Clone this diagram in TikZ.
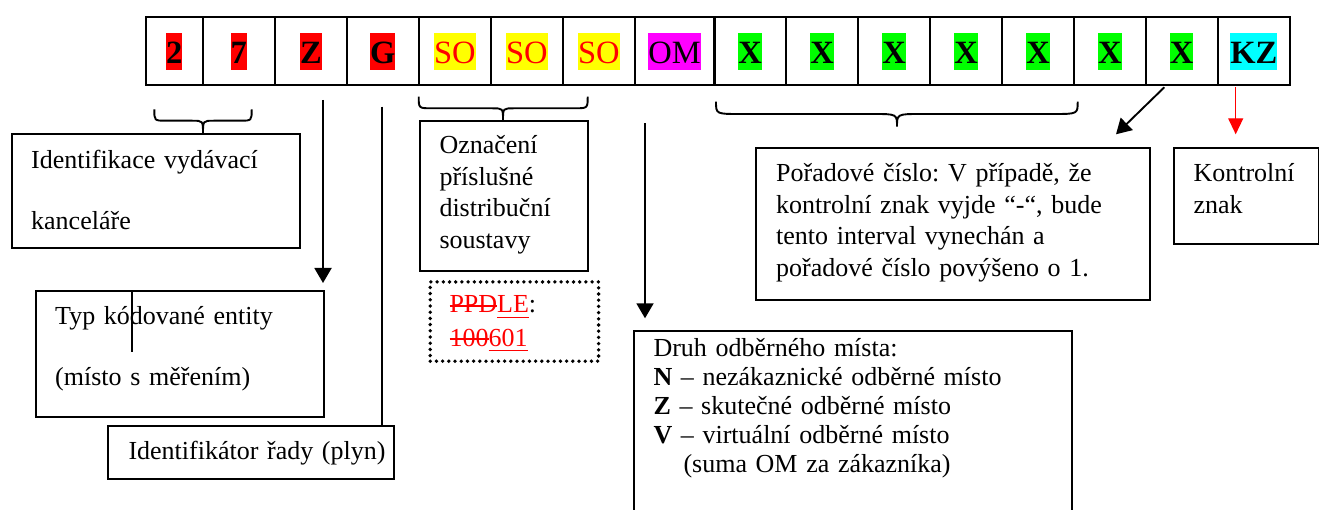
\documentclass[tikz,border=0pt]{standalone}
\usepackage{fontspec}
\setmainfont{Liberation Serif}
\usetikzlibrary{arrows.meta}
\frenchspacing
\definecolor{hlred}{RGB}{255,0,0}
\definecolor{hlyellow}{RGB}{255,255,0}
\definecolor{hlmag}{RGB}{255,0,255}
\definecolor{hlgreen}{RGB}{0,255,0}
\definecolor{hlcyan}{RGB}{0,255,255}
\newcommand\topfnt{\fontsize{32.5}{37}\selectfont}
\newsavebox\mkbox
\newcommand\strk[1]{\leavevmode\sbox\mkbox{#1}\rlap{\rule[6.3pt]{\wd\mkbox}{1.6pt}}\usebox\mkbox}
\newcommand\undl[1]{\leavevmode\sbox\mkbox{#1}\rlap{\rule[-5.5pt]{\wd\mkbox}{1.6pt}}\usebox\mkbox}
\begin{document}
\begin{tikzpicture}[x=1pt,y=-1pt,
  cell/.style={draw, line width=2.4pt, minimum height=67.7pt, inner sep=0pt, anchor=center},
  hl/.style={inner sep=0pt, text height=30.3pt, text depth=6.7pt, anchor=base, font=\topfnt},
  box/.style={draw, line width=1.9pt, anchor=north west, inner sep=0pt},
  dotbox/.style={draw, line width=3.8pt, dash pattern=on 0pt off 6.2pt, line cap=round, anchor=north west, inner sep=0pt},
  txt/.style={anchor=base west, inner sep=0pt, align=left, text width=420pt},
  arr/.style={line width=1.9pt, -{Triangle[width=17pt,length=15pt]}},
  brc/.style={line width=1.9pt}]
\useasboundingbox (0,0) rectangle (1319,510);
\clip (0,0) rectangle (1319,510);
% top row of cells
\foreach \i/\a/\b in {1/145.7/202.7, 2/202.7/275, 3/275/347, 4/347/418.7, 5/418.7/491,
  6/491/562.7, 7/562.7/635, 8/635/714.3, 9/714.3/786, 10/786/858, 11/858/930,
  12/930/1002, 13/1002/1074, 14/1074/1145.7, 15/1145.7/1217.7, 16/1217.7/1290}
  \node[cell, minimum width={(\b-\a)*1pt}] (c\i) at ({(\a+\b)/2},51.15) {};
% cell texts
\node[hl, fill=hlred, font=\topfnt\bfseries] (t1) at ([yshift=-12.15pt]c1.center) {2};
\node[hl, fill=hlred, font=\topfnt\bfseries] (t2) at ([yshift=-12.15pt]c2.center) {7};
\node[hl, fill=hlred, font=\topfnt\bfseries] (t3) at ([yshift=-12.15pt]c3.center) {Z};
\node[hl, fill=hlred, font=\topfnt\bfseries] (t4) at ([yshift=-12.15pt]c4.center) {G};
\node[hl, fill=hlyellow, text=hlred] (t5) at ([yshift=-12.15pt]c5.center) {SO};
\node[hl, fill=hlyellow, text=hlred] (t6) at ([yshift=-12.15pt]c6.center) {SO};
\node[hl, fill=hlyellow, text=hlred] (t7) at ([yshift=-12.15pt]c7.center) {SO};
\node[hl, fill=hlmag] (t8) at ([yshift=-12.15pt]c8.center) {OM};
\foreach \i in {9,...,15}
  \node[hl, fill=hlgreen, font=\topfnt\bfseries] (t\i) at ([yshift=-12.15pt]c\i.center) {X};
\node[hl, fill=hlcyan, font=\topfnt\bfseries] (t16) at ([yshift=-12.15pt]c16.center) {KZ};

% boxes
\node[box, minimum width=288pt, minimum height=113.4pt] (idbox) at (11,133.3) {};
\node[txt, font=\fontsize{26}{61}\selectfont] (idtxt) at (31,168.5) {Identifikace vydávací\\kanceláře};

\node[box, minimum width=288.3pt, minimum height=126pt] (typbox) at (35,290) {};
\node[txt, font=\fontsize{26}{61}\selectfont] (typtxt) at (55,324) {Typ kódované entity\\(místo s měřením)};

\node[box, fill=white, minimum width=286.3pt, minimum height=53.3pt] (radbox) at (106.7,425) {};
\node[txt, font=\fontsize{26}{30}\selectfont] (radtxt) at (128.3,459) {Identifikátor řady (plyn)};

\node[box, minimum width=168.3pt, minimum height=150pt] (ozbox) at (419,120) {};
\node[txt, font=\fontsize{26}{31.5}\selectfont] (oztxt) at (439.3,154) {Označení\\příslušné\\distribuční\\soustavy};

\node[dotbox, minimum width=168.4pt, minimum height=79.3pt] (ppbox) at (428.3,280) {};
\node[txt, text=hlred, font=\fontsize{26}{33}\selectfont] (pptxt) at (449.3,313)
  {\strk{PPD}\undl{LE}\textcolor{black}{:}\\\strk{100}\undl{601}};

\node[box, minimum width=437.4pt, minimum height=200pt] (druhbox) at (633.3,330) {};
\node[txt, font=\fontsize{26}{29.2}\selectfont] (druhtxt) at (653.3,356)
  {Druh odběrného místa:\\\textbf{N} – nezákaznické odběrné místo\\\textbf{Z} – skutečné odběrné místo\\\textbf{V} – virtuální odběrné místo\\\hspace*{30pt}(suma OM za zákazníka)};

\node[box, minimum width=394pt, minimum height=152.6pt] (pobox) at (755,146.7) {};
\node[txt, font=\fontsize{26}{31.6}\selectfont] (potxt) at (776,181.5)
  {Pořadové číslo: V případě, že\\kontrolní znak vyjde “-“, bude\\tento interval vynechán a\\pořadové číslo povýšeno o 1.};

\node[box, minimum width=144.8pt, minimum height=96pt] (kzbox) at (1172.7,147.3) {};
\node[txt, font=\fontsize{26}{31.6}\selectfont] (kztxt) at (1193.3,181.7) {Kontrolní\\znak};

% stray line inside Typ box
\draw[line width=1.9pt] (131.7,290.7) -- (131.7,351.7);

% braces
\coordinate (b1tip) at (203,133.3);
\draw[brc] (154.3,109.3) .. controls (154.3,120.7) .. (166,120.7) -- (192,120.7)
  .. controls (203,120.7) .. (b1tip) .. controls (203,120.7) .. (214,120.7) -- (240,120.7)
  .. controls (251.7,120.7) .. (251.7,109.3);
\coordinate (b2tip) at (503,120);
\draw[brc] (418.7,96.7) .. controls (418.7,108.3) .. (432,108.3) -- (492,108.3)
  .. controls (503,108.3) .. (b2tip) .. controls (503,108.3) .. (514,108.3) -- (574,108.3)
  .. controls (587.7,108.3) .. (587.7,96.7);
\coordinate (b3tip) at (897,126.7);
\draw[brc] (716,101.7) .. controls (716,114) .. (740,114) -- (873,114)
  .. controls (897,114) .. (b3tip) .. controls (897,114) .. (921,114) -- (1053,114)
  .. controls (1077.7,114) .. (1077.7,101.7);

% connectors
\coordinate (aS) at (323,100);
\coordinate (aE) at (323,283);
\draw[arr] (aS) -- (aE);
\coordinate (bS) at (381.7,106.7);
\draw[line width=1.9pt] (bS) -- (radbox.north west -| bS);
\coordinate (cS) at (645,123.3);
\coordinate (cE) at (645,318.3);
\draw[arr] (cS) -- (cE);
\coordinate (dS) at (1164.3,87.3);
\coordinate (dE) at (1116,134.3);
\draw[arr] (dS) -- (dE);
\coordinate (eS) at (1235.7,87.3);
\coordinate (eE) at (1235.7,134.3);
\draw[hlred, line width=1.3pt, -{Triangle[width=15pt,length=16pt]}] (eS) -- (eE);
\end{tikzpicture}
\end{document}
